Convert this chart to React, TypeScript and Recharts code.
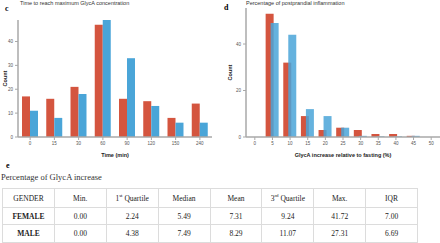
import React from "react";
import { BarChart, Bar, XAxis, YAxis } from "recharts";

// panel c
const timeLabels = ["0", "15", "30", "60", "90", "120", "150", "240"];
const timeRed = [17, 16, 21, 47, 16, 15, 8, 14];
const timeBlue = [11, 8, 18, 49, 33, 13, 6, 6];

// panel d
const pctLabels = ["0", "5", "10", "15", "20", "25", "30", "35", "40", "45", "50"];
const pctRed = [0, 53, 32, 9, 3, 4, 3, 1.3, 1.3, 0.5, 0];
const pctBlue = [0, 49, 44, 12, 9, 4, 0.5, 0.3, 0.3, 0.5, 0];

// panel e
const tableHeader = ["GENDER", "Min.", "1st Quartile", "Median", "Mean", "3rd Quartile", "Max.", "IQR"];
const femaleRow = ["FEMALE", "0.00", "2.24", "5.49", "7.31", "9.24", "41.72", "7.00"];
const maleRow = ["MALE", "0.00", "4.38", "7.49", "8.29", "11.07", "27.31", "6.69"];

const RED = "#d4553f";
const BLUE = "#4aa5d8";
const AXIS = "#a8a8a8";
const SANS = "'Liberation Sans', Arial, sans-serif";
const SERIF = "'Liberation Serif', 'Times New Roman', serif";

const timeData = timeLabels.map((t, i) => ({ t, red: timeRed[i], blue: timeBlue[i] }));
const pctData = pctLabels.map((p, i) => ({ p, red: pctRed[i], blue: pctBlue[i] }));

const tick = { fontSize: 4.5, fill: "#555", fontFamily: SANS };

const headerCell = (h: string) => {
  if (h === "1st Quartile") return <>1<sup style={{ fontSize: 5 }}>st</sup> Quartile</>;
  if (h === "3rd Quartile") return <>3<sup style={{ fontSize: 5 }}>rd</sup> Quartile</>;
  return h;
};

export default function App() {
  const cell: React.CSSProperties = {
    border: "1px solid #dcdcdc",
    textAlign: "center",
    padding: 0,
    fontSize: 7.5,
    color: "#222",
  };
  return (
    <div style={{ position: "absolute", left: 0, top: 0, width: 440, height: 243, background: "#fff", overflow: "hidden" }}>
      {/* panel c */}
      <div style={{ position: "absolute", left: 5, top: 4, fontFamily: SERIF, fontWeight: "bold", fontSize: 8 }}>c</div>
      <div style={{ position: "absolute", left: 20, top: 0, fontFamily: SANS, fontSize: 5.5, color: "#333" }}>
        Time to reach maximum GlycA concentration
      </div>
      <div style={{ position: "absolute", left: 0, top: 0 }}>
        <BarChart width={220} height={160} data={timeData} margin={{ top: 20, right: 8, left: 0, bottom: 0 }} barGap={0} barSize={8}>
          <XAxis dataKey="t" height={23} tick={tick} tickLine={{ stroke: AXIS }} tickSize={3}
            axisLine={{ stroke: AXIS, strokeWidth: 1.5 }}
            label={{ value: "Time (min)", position: "insideBottom", offset: 3, style: { fontSize: 5.5, fontWeight: "bold", fill: "#222", fontFamily: SANS } }} />
          <YAxis width={18} domain={[0, 47]} ticks={[0, 10, 20, 30, 40]} tick={tick} tickSize={3}
            tickLine={{ stroke: AXIS }} axisLine={{ stroke: AXIS, strokeWidth: 1.5 }}
            label={{ value: "Count", angle: -90, position: "insideLeft", offset: 5, style: { fontSize: 5.5, fontWeight: "bold", fill: "#222", fontFamily: SANS, textAnchor: "middle" } }} />
          <Bar dataKey="red" fill={RED} isAnimationActive={false} />
          <Bar dataKey="blue" fill={BLUE} isAnimationActive={false} />
        </BarChart>
      </div>

      {/* panel d */}
      <div style={{ position: "absolute", left: 224, top: 3, fontFamily: SERIF, fontWeight: "bold", fontSize: 8 }}>d</div>
      <div style={{ position: "absolute", left: 246, top: 0, fontFamily: SANS, fontSize: 5.5, color: "#333" }}>
        Percentage of postprandial inflammation
      </div>
      <div style={{ position: "absolute", left: 220, top: 0 }}>
        <BarChart width={220} height={160} data={pctData} margin={{ top: 8, right: 0, left: 0, bottom: 0 }} barGap={-3} barSize={8}>
          <XAxis dataKey="p" height={23} tick={tick} tickLine={{ stroke: AXIS }} tickSize={3}
            axisLine={{ stroke: AXIS, strokeWidth: 1.5 }}
            label={{ value: "GlycA increase relative to fasting (%)", position: "insideBottom", offset: 3, style: { fontSize: 5.5, fontWeight: "bold", fill: "#222", fontFamily: SANS } }} />
          <YAxis width={26} domain={[0, 55.5]} ticks={[0, 20, 40]} tick={tick} tickSize={3}
            tickLine={{ stroke: AXIS }} axisLine={{ stroke: AXIS, strokeWidth: 1.5 }}
            label={{ value: "Count", angle: -90, position: "insideLeft", offset: 10, style: { fontSize: 5.5, fontWeight: "bold", fill: "#222", fontFamily: SANS, textAnchor: "middle" } }} />
          <Bar dataKey="red" fill={RED} isAnimationActive={false} />
          <Bar dataKey="blue" fill={BLUE} fillOpacity={0.85} isAnimationActive={false} />
        </BarChart>
      </div>

      {/* panel e */}
      <div style={{ position: "absolute", left: 6, top: 161, fontFamily: SERIF, fontWeight: "bold", fontSize: 8 }}>e</div>
      <div style={{ position: "absolute", left: 1, top: 172, fontFamily: SERIF, fontSize: 8.5, color: "#333" }}>
        Percentage of GlycA increase
      </div>
      <table style={{ position: "absolute", left: 2, top: 188, width: 416, borderCollapse: "collapse", fontFamily: SERIF, tableLayout: "fixed" }}>
        <tbody>
          <tr style={{ height: 19 }}>
            {tableHeader.map((h) => <td key={h} style={cell}>{headerCell(h)}</td>)}
          </tr>
          <tr style={{ height: 17 }}>
            {femaleRow.map((v, i) => <td key={i} style={{ ...cell, fontWeight: i === 0 ? "bold" : "normal" }}>{v}</td>)}
          </tr>
          <tr style={{ height: 18 }}>
            {maleRow.map((v, i) => <td key={i} style={{ ...cell, fontWeight: i === 0 ? "bold" : "normal" }}>{v}</td>)}
          </tr>
        </tbody>
      </table>
    </div>
  );
}
